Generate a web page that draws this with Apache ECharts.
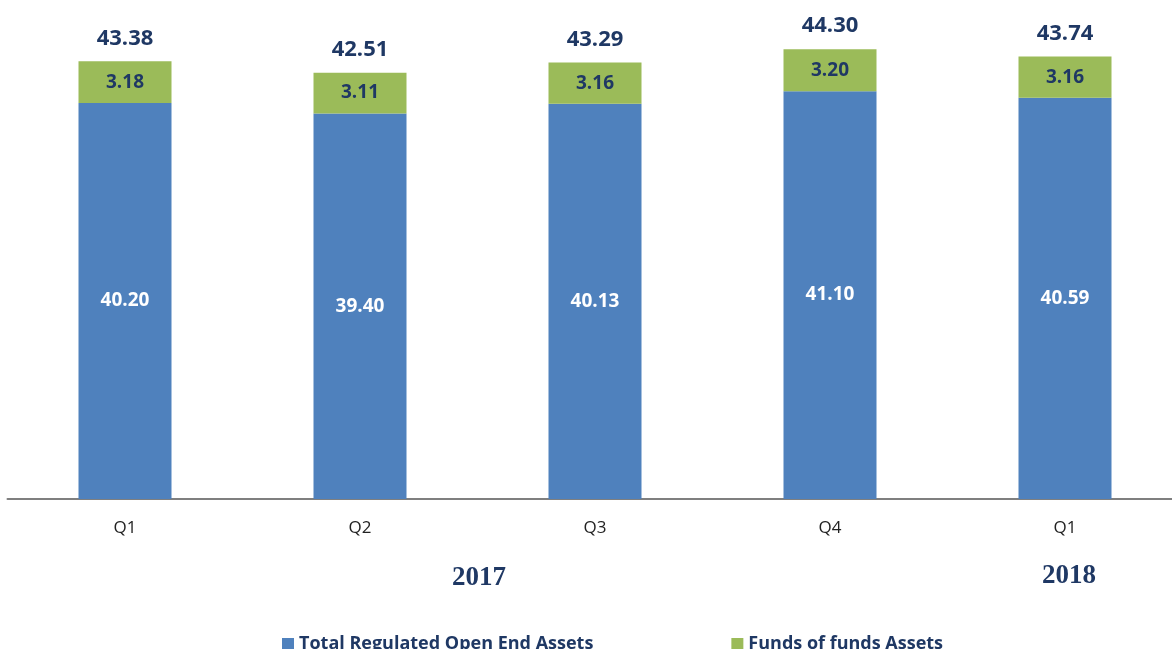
<!DOCTYPE html>
<html>
<head>
<meta charset="utf-8">
<script src="https://cdn.jsdelivr.net/npm/echarts@6/dist/echarts.min.js"></script>
<style>
  html, body { margin: 0; padding: 0; background: #fff; }
  #chart { width: 1172px; height: 649px; }
</style>
</head>
<body>
<div id="chart"></div>
<script>
// data
const quarters = ['Q1', 'Q2', 'Q3', 'Q4', 'Q1']
const openEndAssets = [40.20, 39.40, 40.13, 41.10, 40.59]
const fundsOfFunds = [3.18, 3.11, 3.16, 3.20, 3.16]
const totals = [43.38, 42.51, 43.29, 44.30, 43.74]
const years = ['2017', '2018']

const navy = '#1f3864'
const chart = echarts.init(document.getElementById('chart'))

const options = {
  animation: false,
  color: ['#4f81bd', '#9bbb59'],
  legend: {
    data: ['Total Regulated Open End Assets', 'Funds of funds Assets'],
    left: 277,
    top: 630,
    itemWidth: 12,
    itemHeight: 12,
    itemGap: 138,
    icon: 'rect',
    textStyle: {
      fontFamily: 'Open Sans',
      fontWeight: 'bold',
      fontSize: 18,
      color: navy
    }
  },
  grid: {
    left: 7.5,
    width: 1175,
    top: 40,
    bottom: 150,
    outerBoundsMode: 'none'
  },
  xAxis: {
    type: 'category',
    data: quarters,
    axisTick: { show: false },
    axisLine: { lineStyle: { color: '#7f7f7f', width: 2 } },
    axisLabel: {
      margin: 21,
      fontFamily: 'Open Sans',
      fontSize: 17,
      color: '#222'
    }
  },
  yAxis: {
    type: 'value',
    min: 10,
    max: 45,
    show: false,
    splitLine: { show: false }
  },
  graphic: [
    {
      type: 'text',
      left: 452,
      top: 565,
      style: { text: years[0], fontFamily: 'Liberation Serif', fontWeight: 'bold', fontSize: 27, fill: navy }
    },
    {
      type: 'text',
      left: 1042,
      top: 563,
      style: { text: years[1], fontFamily: 'Liberation Serif', fontWeight: 'bold', fontSize: 27, fill: navy }
    }
  ],
  series: [
    {
      name: 'Total Regulated Open End Assets',
      type: 'bar',
      stack: 'assets',
      barWidth: 93,
      data: openEndAssets,
      label: {
        show: true,
        position: 'inside',
        formatter: p => p.value.toFixed(2),
        fontFamily: 'Open Sans',
        fontWeight: 'bold',
        fontSize: 19,
        color: '#fff'
      }
    },
    {
      name: 'Funds of funds Assets',
      type: 'bar',
      stack: 'assets',
      barWidth: 93,
      data: fundsOfFunds,
      label: {
        show: true,
        position: 'inside',
        formatter: p => p.value.toFixed(2),
        fontFamily: 'Open Sans',
        fontWeight: 'bold',
        fontSize: 19,
        color: navy
      }
    },
    {
      name: 'Total',
      type: 'scatter',
      symbolSize: 0,
      itemStyle: { opacity: 1 },
      data: totals,
      label: {
        show: true,
        position: 'top',
        distance: 12,
        formatter: p => p.value.toFixed(2),
        fontFamily: 'Open Sans',
        fontWeight: 'bold',
        fontSize: 22,
        color: navy,
        opacity: 1
      }
    }
  ]
}

chart.setOption(options)
</script>
</body>
</html>
